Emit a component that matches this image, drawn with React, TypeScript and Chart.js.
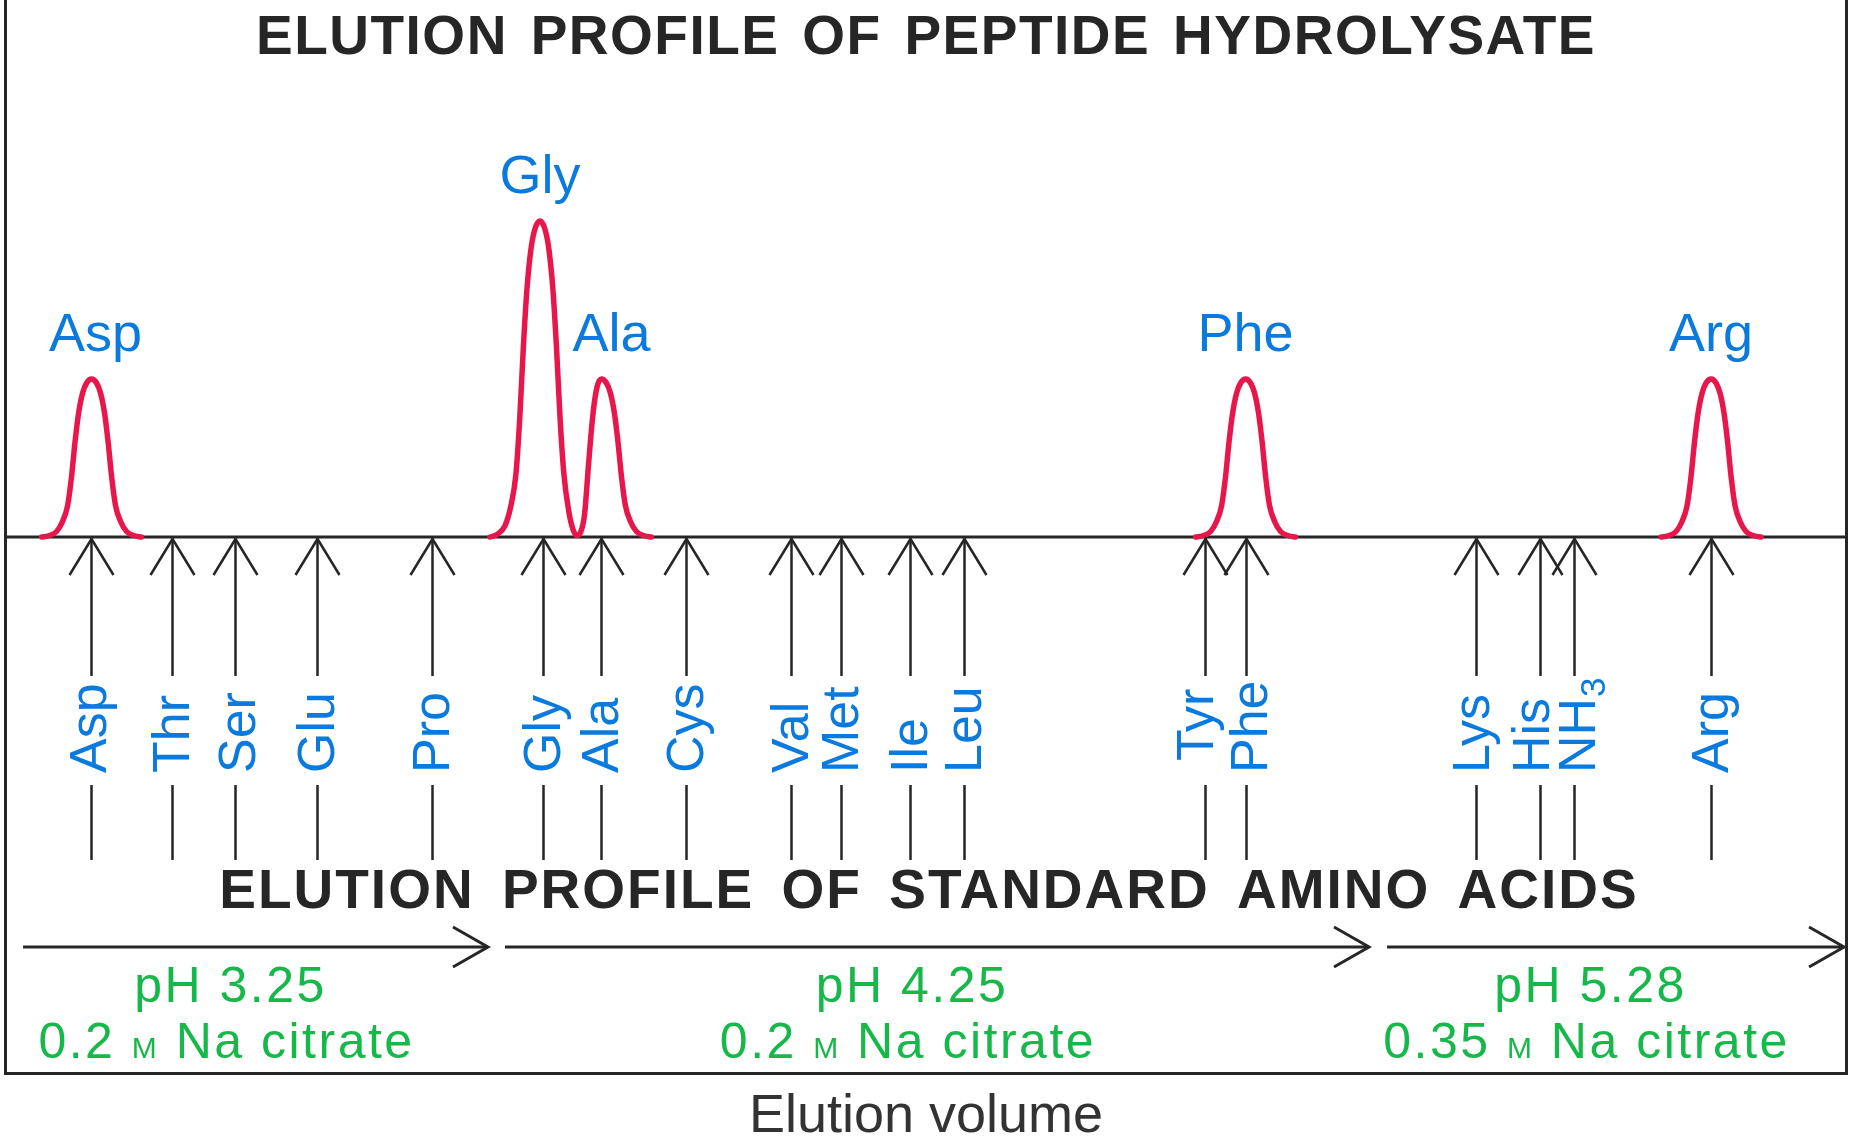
import React, { useEffect, useRef } from "react";
import { Chart, registerables } from "chart.js";

Chart.register(...registerables);

// ---------- DATA ----------
// Elution volume in arbitrary units (0–100 across the chart), absorbance relative to Gly = 1
const peakNames = ["Asp", "Gly", "Ala", "Phe", "Arg"];
const peakVolumes = [4.7, 29.04, 32.38, 67.35, 92.62];
const peakHeights = [0.5, 1.0, 0.5, 0.5, 0.5];

// Hydrolysate trace (null = no signal drawn between peaks)
const traceVolume = [
  1.99, 2.37, 2.8, 3.13, 3.4, 3.61, 3.8, 3.99, 4.21, 4.43, 4.7, 4.97, 5.19, 5.41, 5.6, 5.79, 6.0, 6.27, 6.6, 7.03, 7.41,
  15,
  26.33, 26.71, 27.14, 27.47, 27.74, 27.95, 28.14, 28.33, 28.55, 28.77, 29.04, 29.31, 29.53, 29.75, 29.94, 30.13, 30.34, 30.61, 30.83, 31.05,
  31.25, 31.46, 31.68, 31.87, 32.03, 32.19, 32.38, 32.65, 32.87, 33.09, 33.28, 33.47, 33.68, 33.95, 34.28, 34.71, 35.09,
  50,
  64.64, 65.02, 65.45, 65.78, 66.05, 66.26, 66.45, 66.64, 66.86, 67.08, 67.35, 67.62, 67.84, 68.06, 68.25, 68.44, 68.65, 68.92, 69.25, 69.68, 70.06,
  80,
  89.91, 90.29, 90.72, 91.05, 91.32, 91.53, 91.72, 91.91, 92.13, 92.35, 92.62, 92.89, 93.11, 93.33, 93.52, 93.71, 93.92, 94.19, 94.52, 94.95, 95.33,
];
const traceAbsorbance = [
  0, 0.004, 0.0175, 0.05, 0.1, 0.19, 0.3, 0.39, 0.455, 0.4875, 0.5, 0.4875, 0.455, 0.39, 0.3, 0.19, 0.1, 0.05, 0.0175, 0.004, 0,
  null,
  0, 0.008, 0.035, 0.1, 0.2, 0.38, 0.6, 0.78, 0.91, 0.975, 1.0, 0.975, 0.91, 0.78, 0.6, 0.38, 0.2, 0.08, 0.025, 0.005,
  0.015, 0.07, 0.23, 0.36, 0.44, 0.485, 0.5, 0.4875, 0.455, 0.39, 0.3, 0.19, 0.1, 0.05, 0.0175, 0.004, 0,
  null,
  0, 0.004, 0.0175, 0.05, 0.1, 0.19, 0.3, 0.39, 0.455, 0.4875, 0.5, 0.4875, 0.455, 0.39, 0.3, 0.19, 0.1, 0.05, 0.0175, 0.004, 0,
  null,
  0, 0.004, 0.0175, 0.05, 0.1, 0.19, 0.3, 0.39, 0.455, 0.4875, 0.5, 0.4875, 0.455, 0.39, 0.3, 0.19, 0.1, 0.05, 0.0175, 0.004, 0,
];

// Standard amino acids elution positions
const standardNames = ["Asp", "Thr", "Ser", "Glu", "Pro", "Gly", "Ala", "Cys", "Val", "Met", "Ile", "Leu", "Tyr", "Phe", "Lys", "His", "NH3", "Arg"];
const standardVolumes = [4.67, 9.07, 12.49, 16.94, 23.18, 29.21, 32.36, 36.97, 42.67, 45.36, 49.13, 52.09, 65.15, 67.37, 79.84, 83.31, 85.16, 92.64];

// Buffer steps
const bufferPH = ["pH 3.25", "pH 4.25", "pH 5.28"];
const bufferMolarity = ["0.2", "0.2", "0.35"];
const bufferStart = [0.98, 27.14, 75.03];
const bufferEnd = [26.22, 74.05, 99.84];

const topTitle = "ELUTION PROFILE OF PEPTIDE HYDROLYSATE";
const bottomTitle = "ELUTION PROFILE OF STANDARD AMINO ACIDS";
const axisTitle = "Elution volume";

// ---------- STYLE ----------
const FONT = '"Liberation Sans", Arial, Helvetica, sans-serif';
const INK = "#262626";
const RED = "#e8174b";
const BLUE = "#0a7adf";
const GREEN = "#17b84a";

// label placement tweaks (pixels)
const peakLabelNudge: Record<string, number> = { Asp: 4, Ala: 10 };
const stdLabelNudge: Record<string, [number, number]> = {
  Asp: [-2, 0],
  Tyr: [-9, -12],
  Phe: [4, 0],
  Lys: [-4, 0],
  His: [-8, 0],
  NH3: [4, 0],
  Ser: [3, 0],
};

function drawRich(ctx: CanvasRenderingContext2D, parts: [string, number][], cx: number, by: number, ls: number) {
  const widths: number[] = [];
  let total = 0;
  for (const [t, s] of parts) {
    ctx.font = `${s}px ${FONT}`;
    (ctx as any).letterSpacing = ls + "px";
    const w = ctx.measureText(t).width;
    widths.push(w);
    total += w;
  }
  let xx = cx - total / 2;
  ctx.textAlign = "left";
  parts.forEach(([t, s], i) => {
    ctx.font = `${s}px ${FONT}`;
    ctx.fillText(t, xx, by);
    xx += widths[i];
  });
}

const overlayPlugin = {
  id: "overlay",
  beforeDatasetsDraw(chart: any) {
    const { ctx, chartArea: a, scales } = chart;
    const y0 = scales.y.getPixelForValue(0);
    ctx.save();
    ctx.strokeStyle = INK;
    ctx.lineWidth = 3;
    ctx.lineCap = "butt";
    ctx.beginPath();
    ctx.moveTo(a.left + 0.5, a.top);
    ctx.lineTo(a.left + 0.5, a.bottom - 0.5);
    ctx.lineTo(a.right - 0.5, a.bottom - 0.5);
    ctx.lineTo(a.right - 0.5, a.top);
    ctx.stroke();
    ctx.beginPath();
    ctx.moveTo(a.left, y0);
    ctx.lineTo(a.right, y0);
    ctx.stroke();
    ctx.restore();
  },
  afterDraw(chart: any) {
    const { ctx, chartArea: a, scales } = chart;
    const xs = scales.x;
    const ys = scales.y;
    const y0 = ys.getPixelForValue(0);
    const cx = (a.left + a.right) / 2;
    ctx.save();

    // Titles
    ctx.fillStyle = INK;
    ctx.textAlign = "center";
    ctx.textBaseline = "alphabetic";
    ctx.font = `bold 55px ${FONT}`;
    (ctx as any).letterSpacing = "1.5px";
    (ctx as any).wordSpacing = "6px";
    ctx.fillText(topTitle, cx, a.top + 54);
    (ctx as any).letterSpacing = "2px";
    (ctx as any).wordSpacing = "10px";
    ctx.fillText(bottomTitle, cx + 3, y0 + 371);
    (ctx as any).wordSpacing = "0px";
    (ctx as any).letterSpacing = "0px";
    ctx.font = `54px ${FONT}`;
    ctx.fillStyle = "#333333";
    ctx.fillText(axisTitle, cx, a.bottom + 58);

    // Peak labels
    ctx.fillStyle = BLUE;
    ctx.font = `54px ${FONT}`;
    peakNames.forEach((n, i) => {
      const px = xs.getPixelForValue(peakVolumes[i]) + (peakLabelNudge[n] || 0);
      const py = ys.getPixelForValue(peakHeights[i]);
      ctx.fillText(n, px, py - 28);
    });

    // Standard arrows
    ctx.strokeStyle = INK;
    ctx.lineWidth = 2.5;
    ctx.lineJoin = "miter";
    standardVolumes.forEach((v, i) => {
      const px = Math.round(xs.getPixelForValue(v)) + 0.5;
      ctx.beginPath();
      ctx.moveTo(px, y0 + 1);
      ctx.lineTo(px, y0 + 139);
      ctx.moveTo(px, y0 + 248);
      ctx.lineTo(px, y0 + 323);
      ctx.stroke();
      ctx.beginPath();
      ctx.moveTo(px - 22, y0 + 38);
      ctx.lineTo(px, y0 + 2);
      ctx.lineTo(px + 22, y0 + 38);
      ctx.stroke();

      const name = standardNames[i];
      const [nx, ny] = stdLabelNudge[name] || [0, 0];
      ctx.save();
      ctx.translate(px + 16 + nx, y0 + 236 + ny);
      ctx.rotate(-Math.PI / 2);
      ctx.textAlign = "left";
      ctx.fillStyle = BLUE;
      const m = name.match(/^(.*?)(\d+)$/);
      if (m) {
        ctx.font = `52px ${FONT}`;
        ctx.fillText(m[1], 0, 0);
        const w = ctx.measureText(m[1]).width;
        ctx.font = `35px ${FONT}`;
        ctx.fillText(m[2], w + 1, 10);
      } else {
        ctx.font = `52px ${FONT}`;
        ctx.fillText(name, 0, 0);
      }
      ctx.restore();
    });

    // Buffer arrows
    const yb = y0 + 410;
    ctx.lineWidth = 3;
    bufferStart.forEach((s, i) => {
      const x1 = xs.getPixelForValue(s);
      const x2 = xs.getPixelForValue(bufferEnd[i]);
      ctx.beginPath();
      ctx.moveTo(x1, yb);
      ctx.lineTo(x2, yb);
      ctx.stroke();
      ctx.beginPath();
      ctx.moveTo(x2 - 35, yb - 20);
      ctx.lineTo(x2, yb);
      ctx.lineTo(x2 - 35, yb + 20);
      ctx.stroke();
      const mid = (x1 + x2) / 2;
      ctx.fillStyle = GREEN;
      drawRich(ctx, [[bufferPH[i], 50]], mid - 25, y0 + 465, 2.5);
      drawRich(ctx, [[bufferMolarity[i] + " ", 50], ["M", 30], [" Na citrate", 50]], mid - 29, y0 + 521, 2.5);
    });
    ctx.restore();
  },
};

export default function App() {
  const ref = useRef<HTMLCanvasElement | null>(null);
  useEffect(() => {
    if (!ref.current) return;
    const points = traceVolume.map((x, i) => ({ x, y: traceAbsorbance[i] }));
    const chart = new Chart(ref.current, {
      type: "line",
      data: {
        datasets: [
          {
            label: "Peptide hydrolysate",
            data: points as any,
            borderColor: RED,
            borderWidth: 5.5,
            pointRadius: 0,
            fill: false,
            spanGaps: false,
            cubicInterpolationMode: "monotone",
            borderCapStyle: "round",
            borderJoinStyle: "round",
          },
        ],
      },
      options: {
        responsive: false,
        animation: false,
        devicePixelRatio: 1,
        layout: { padding: { left: 5, right: 4, top: 0, bottom: 67 } },
        plugins: { legend: { display: false }, tooltip: { enabled: false }, title: { display: false } },
        scales: {
          x: { type: "linear", min: 0, max: 100, display: false },
          y: { type: "linear", min: -1.7, max: 1.7, display: false },
        },
      },
      plugins: [overlayPlugin],
    });
    return () => chart.destroy();
  }, []);
  return (
    <canvas
      ref={ref}
      width={1851}
      height={1141}
      style={{ position: "absolute", left: 0, top: 0, background: "#ffffff" }}
    />
  );
}
